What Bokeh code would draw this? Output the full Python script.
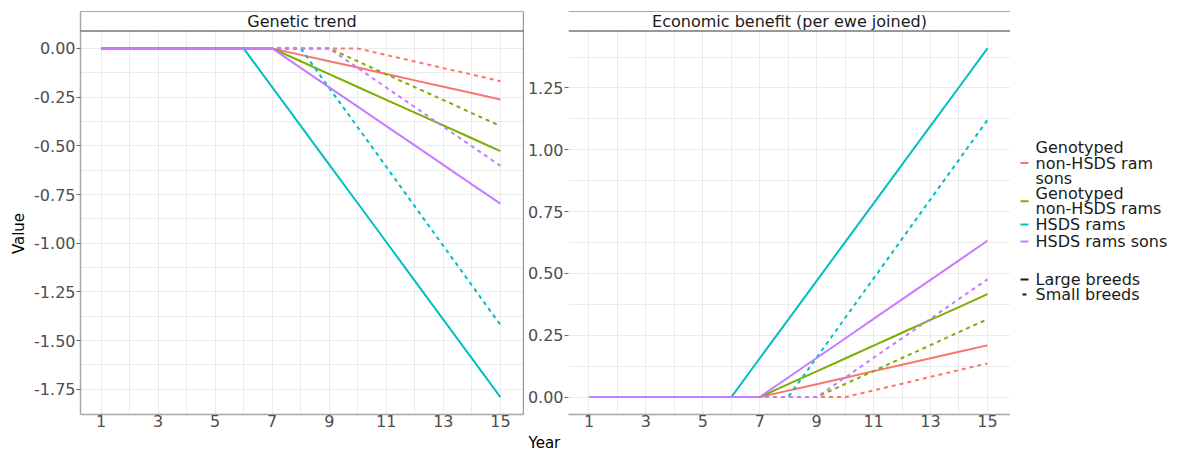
import math
from bokeh.plotting import figure
from bokeh.layouts import row, column
from bokeh.models import Range1d, FixedTicker, NumeralTickFormatter, Span, Label
from bokeh.core.properties import value
from bokeh.embed import file_html
from bokeh.resources import INLINE

# ---------------- data ----------------
years = [1, 2, 3, 4, 5, 6, 7, 8, 9, 10, 11, 12, 13, 14, 15]

groups = ["Genotyped non-HSDS ram sons", "Genotyped non-HSDS rams", "HSDS rams", "HSDS rams sons"]
group_legend_lines = [["Genotyped", "non-HSDS ram", "sons"],
                      ["Genotyped", "non-HSDS rams"],
                      ["HSDS rams"],
                      ["HSDS rams sons"]]
breeds = ["Large breeds", "Small breeds"]
colors = ["#F8766D", "#7CAE00", "#00BFC4", "#C77CFF"]
dashes = ["solid", "4 4"]

panel_titles = ["Genetic trend", "Economic benefit (per ewe joined)"]
x_title = "Year"
y_title = "Value"

# Genetic trend
gt_ram_sons_large = [0, 0, 0, 0, 0, 0, 0, -0.033, -0.066, -0.098, -0.131, -0.164, -0.197, -0.229, -0.262]
gt_ram_sons_small = [0, 0, 0, 0, 0, 0, 0, 0, 0, 0, -0.034, -0.067, -0.101, -0.134, -0.168]
gt_rams_large = [0, 0, 0, 0, 0, 0, 0, -0.066, -0.132, -0.198, -0.264, -0.330, -0.395, -0.461, -0.527]
gt_rams_small = [0, 0, 0, 0, 0, 0, 0, 0, 0, -0.066, -0.133, -0.199, -0.265, -0.332, -0.398]
gt_hsds_large = [0, 0, 0, 0, 0, 0, -0.199, -0.398, -0.597, -0.795, -0.994, -1.193, -1.392, -1.591, -1.790]
gt_hsds_small = [0, 0, 0, 0, 0, 0, 0, 0, -0.203, -0.405, -0.608, -0.811, -1.014, -1.216, -1.419]
gt_hsds_sons_large = [0, 0, 0, 0, 0, 0, 0, -0.100, -0.200, -0.299, -0.399, -0.498, -0.598, -0.698, -0.797]
gt_hsds_sons_small = [0, 0, 0, 0, 0, 0, 0, 0, 0, -0.100, -0.201, -0.301, -0.402, -0.502, -0.603]

# Economic benefit
eb_ram_sons_large = [0, 0, 0, 0, 0, 0, 0, 0.026, 0.052, 0.078, 0.105, 0.131, 0.157, 0.183, 0.209]
eb_ram_sons_small = [0, 0, 0, 0, 0, 0, 0, 0, 0, 0, 0.027, 0.054, 0.082, 0.109, 0.136]
eb_rams_large = [0, 0, 0, 0, 0, 0, 0, 0.052, 0.104, 0.156, 0.208, 0.260, 0.312, 0.364, 0.416]
eb_rams_small = [0, 0, 0, 0, 0, 0, 0, 0, 0, 0.053, 0.105, 0.158, 0.210, 0.263, 0.315]
eb_hsds_large = [0, 0, 0, 0, 0, 0, 0.157, 0.313, 0.470, 0.627, 0.783, 0.940, 1.097, 1.253, 1.410]
eb_hsds_small = [0, 0, 0, 0, 0, 0, 0, 0, 0.160, 0.320, 0.480, 0.640, 0.800, 0.960, 1.120]
eb_hsds_sons_large = [0, 0, 0, 0, 0, 0, 0, 0.079, 0.158, 0.237, 0.316, 0.395, 0.474, 0.553, 0.632]
eb_hsds_sons_small = [0, 0, 0, 0, 0, 0, 0, 0, 0, 0.079, 0.159, 0.238, 0.317, 0.397, 0.476]

x_ticks = [1, 3, 5, 7, 9, 11, 13, 15]
x_minor = [2, 4, 6, 8, 10, 12, 14]
gt_ticks = [0.0, -0.25, -0.5, -0.75, -1.0, -1.25, -1.5, -1.75]
gt_minor = [-0.125, -0.375, -0.625, -0.875, -1.125, -1.375, -1.625]
eb_ticks = [0.0, 0.25, 0.5, 0.75, 1.0, 1.25]
eb_minor = [0.125, 0.375, 0.625, 0.875, 1.125, 1.375]

gt_series = [(gt_ram_sons_large, gt_ram_sons_small), (gt_rams_large, gt_rams_small),
             (gt_hsds_large, gt_hsds_small), (gt_hsds_sons_large, gt_hsds_sons_small)]
eb_series = [(eb_ram_sons_large, eb_ram_sons_small), (eb_rams_large, eb_rams_small),
             (eb_hsds_large, eb_hsds_small), (eb_hsds_sons_large, eb_hsds_sons_small)]

# ---------------- layout constants (page pixels) ----------------
FONT = "DejaVu Sans"
TOTAL_W = 1179
TOTAL_H = 451
ROW_H = 433
TOP = 11
BOTTOM = 19
STRIP_PX = 19.5
PANEL_PX = ROW_H - TOP - BOTTOM - STRIP_PX
FRAME_BOTTOM = ROW_H - BOTTOM
X_RANGE = (0.28, 15.81)
GRID = "#EBEBEB"
AXIS_GREY = "#A6A6A6"
TICK_TEXT = "#4D4D4D"
DARK = "#333333"

W_VALUE = 30
W_P1 = 494
W_P2 = 486
W_LEG = TOTAL_W - W_VALUE - W_P1 - W_P2


def make_panel(width, left, right, title, series, yticks, yminor, left_axis_line=True):
    allv = [v for pair in series for s in pair for v in s]
    lo, hi = min(allv), max(allv)
    pad = 0.05 * (hi - lo)
    p_lo, p_hi = lo - pad, hi + pad
    strip = (p_hi - p_lo) * STRIP_PX / PANEL_PX
    y_end = p_hi + strip

    p = figure(width=width, height=ROW_H, min_border_left=left, min_border_right=right,
               min_border_top=TOP, min_border_bottom=BOTTOM,
               x_range=Range1d(*X_RANGE), y_range=Range1d(p_lo, y_end),
               output_backend="svg", toolbar_location=None, title=None)
    p.outline_line_color = None
    p.background_fill_color = "white"
    p.border_fill_color = "white"

    xt = FixedTicker(ticks=x_ticks, minor_ticks=x_minor)
    yt = FixedTicker(ticks=yticks, minor_ticks=yminor)
    p.xaxis.ticker = xt
    p.xgrid.ticker = xt
    p.yaxis.ticker = yt
    p.ygrid.ticker = yt
    p.yaxis.formatter = NumeralTickFormatter(format="0.00")

    for g in (p.xgrid, p.ygrid):
        g.grid_line_color = GRID
        g.grid_line_width = 1
        g.minor_grid_line_color = GRID
        g.minor_grid_line_width = 1

    for ax in (p.xaxis, p.yaxis):
        ax.major_label_text_font = FONT
        ax.major_label_text_font_size = "16px"
        ax.major_label_text_color = TICK_TEXT
        ax.major_tick_line_color = "#666666"
        ax.minor_tick_out = 0
        ax.minor_tick_in = 0
        ax.major_tick_in = 0
    p.xaxis.axis_line_color = AXIS_GREY
    p.xaxis.axis_line_width = 1.5
    p.xaxis.major_tick_out = 0
    p.xaxis.major_label_standoff = 0
    p.yaxis.major_tick_out = 4
    p.yaxis.major_label_standoff = 1
    if left_axis_line:
        p.yaxis.axis_line_color = AXIS_GREY
        p.yaxis.axis_line_width = 1.5
    else:
        p.yaxis.axis_line_color = None

    # data lines
    for (large, small), c in zip(series, colors):
        p.line(years, large, line_color=c, line_width=2, line_dash=dashes[0])
        p.line(years, small, line_color=c, line_width=2, line_dash=dashes[1])

    # facet strip
    p.quad(left=X_RANGE[0], right=X_RANGE[1], bottom=p_hi, top=y_end,
           fill_color="white", line_color=None)
    p.add_layout(Span(location=y_end, dimension="width", line_color="#555555", line_width=1))
    p.add_layout(Span(location=p_hi, dimension="width", line_color=DARK, line_width=1))
    p.add_layout(Label(x=(X_RANGE[0] + X_RANGE[1]) / 2, y=p_hi + strip / 2, text=title,
                       text_font=FONT, text_font_size="16px", text_color="#1A1A1A",
                       text_align="center", text_baseline="middle"))
    return p


def blank(width, height, xr, yr, top=0, bottom=0):
    b = figure(width=width, height=height, x_range=xr, y_range=yr,
               x_axis_type=None, y_axis_type=None,
               min_border_left=0, min_border_right=0, min_border_top=top, min_border_bottom=bottom,
               output_backend="svg", toolbar_location=None, title=None)
    b.outline_line_color = None
    b.grid.visible = False
    b.background_fill_color = "white"
    b.border_fill_color = "white"
    return b


p1 = make_panel(W_P1, 80 - W_VALUE, 1, panel_titles[0], gt_series, gt_ticks, gt_minor)
p1.add_layout(Span(location=X_RANGE[1], dimension="height", line_color=DARK, line_width=1.2))

p2 = make_panel(W_P2, 44, 0, panel_titles[1], eb_series, eb_ticks, eb_minor, left_axis_line=False)

# y-axis title column (frame maps page y from TOP to FRAME_BOTTOM, negated)
pv = blank(W_VALUE, ROW_H, Range1d(0, W_VALUE), Range1d(-FRAME_BOTTOM, -TOP), TOP, BOTTOM)
pv.text(x=[18], y=[-233], text=[y_title], angle=math.pi / 2, text_font=value(FONT),
        text_font_size="15px", text_color="#000000", text_align="center", text_baseline="middle")

# legend column (frame maps page y directly)
pl = blank(W_LEG, ROW_H, Range1d(0, W_LEG), Range1d(FRAME_BOTTOM, TOP), TOP, BOTTOM)
item_centers = [162.5, 200.7, 224.0, 241.0]
line_gap = 15.5
tx, ty, tt = [], [], []
for lines, c, yc in zip(group_legend_lines, colors, item_centers):
    n = len(lines)
    for i, t in enumerate(lines):
        tx.append(25)
        ty.append(yc + (i - (n - 1) / 2) * line_gap)
        tt.append(t)
    pl.segment(x0=10, y0=yc, x1=18, y1=yc, line_color=c, line_width=2)

breed_centers = [279.0, 294.0]
for b, d, yc in zip(breeds, dashes, breed_centers):
    tx.append(25)
    ty.append(yc)
    tt.append(b)
    if d == "solid":
        pl.segment(x0=10, y0=yc, x1=18, y1=yc, line_color="#1A1A1A", line_width=2)
    else:
        pl.segment(x0=12, y0=yc, x1=20, y1=yc, line_color="#1A1A1A", line_width=2, line_dash=d)

pl.text(x=tx, y=ty, text=tt, text_font=value(FONT), text_font_size="16px",
        text_color="#1A1A1A", text_align="left", text_baseline="middle")

# x-axis title strip beneath the panels
YEAR_H = TOTAL_H - ROW_H
py = blank(TOTAL_W, YEAR_H, Range1d(0, TOTAL_W), Range1d(YEAR_H, 0))
py.text(x=[528], y=[YEAR_H / 2], text=[x_title], text_font=value(FONT), text_font_size="15px",
        text_color="#000000", text_align="left", text_baseline="middle")

layout = column(row(pv, p1, p2, pl), py)
open("out.html", "w").write(file_html(layout, INLINE))
